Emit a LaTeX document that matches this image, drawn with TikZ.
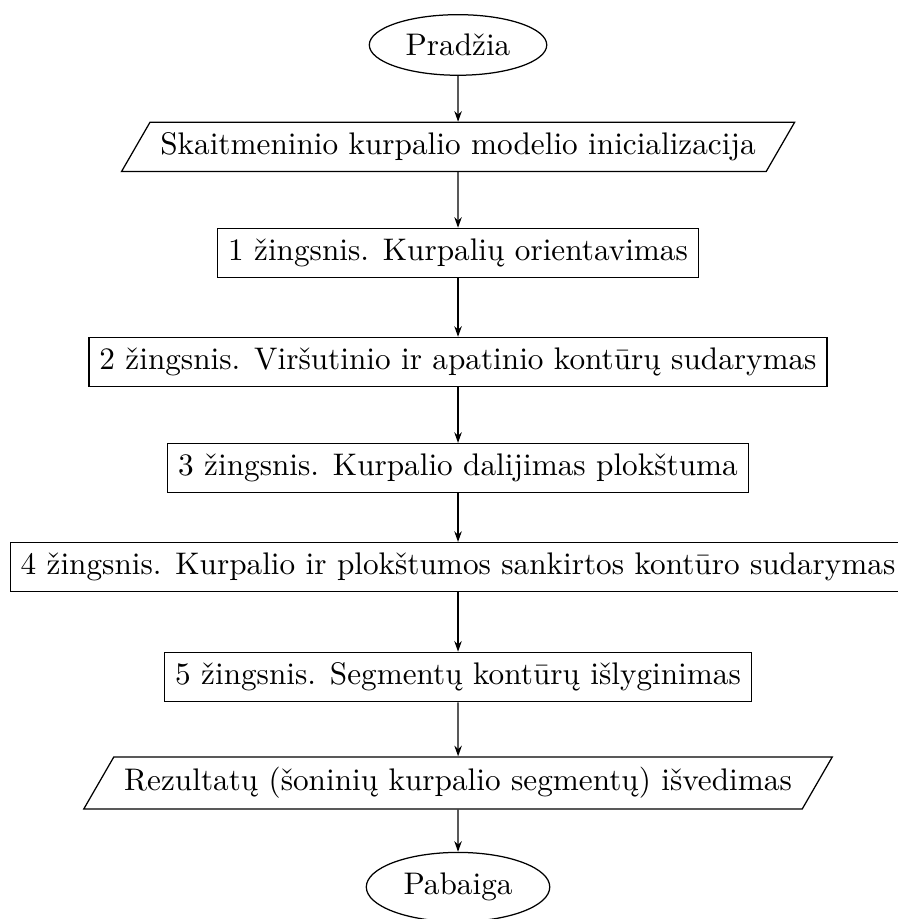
\documentclass[tikz,border=0pt]{standalone}
\usepackage{tikz}
\usetikzlibrary{shapes.geometric,arrows.meta}

\tikzset{
  startstop/.style={ellipse,draw},
  io/.style={trapezium,draw,trapezium left angle=60,trapezium right angle=120},
  process/.style={rectangle,draw},
  arrow/.style={-{Stealth[length=3.4pt,width=2.4pt]}}
}

\begin{document}
\begin{tikzpicture}
\useasboundingbox (-5.154,0.506) rectangle (4.94,-9.835);
\node[startstop] (start) at (0,0) {Pradžia};
\node[io] (init) at (0,-1.148) {Skaitmeninio kurpalio modelio inicializacija};
\node[process] (s1) at (0,-2.34) {1 žingsnis. Kurpalių orientavimas};
\node[process] (s2) at (0,-3.567) {2 žingsnis. Viršutinio ir apatinio kontūrų sudarymas};
\node[process] (s3) at (0,-4.76) {3 žingsnis. Kurpalio dalijimas plokštuma};
\node[process] (s4) at (0,-5.874) {4 žingsnis. Kurpalio ir plokštumos sankirtos kontūro sudarymas};
\node[process] (s5) at (0,-7.112) {5 žingsnis. Segmentų kontūrų išlyginimas};
\node[io] (out) at (0,-8.304) {Rezultatų (šoninių kurpalio segmentų) išvedimas};
\node[startstop] (stop) at (0,-9.475) {Pabaiga};
\draw[arrow] (start) -- (init);
\draw[arrow] (init) -- (s1);
\draw[arrow] (s1) -- (s2);
\draw[arrow] (s2) -- (s3);
\draw[arrow] (s3) -- (s4);
\draw[arrow] (s4) -- (s5);
\draw[arrow] (s5) -- (out);
\draw[arrow] (out) -- (stop);
\end{tikzpicture}
\end{document}
